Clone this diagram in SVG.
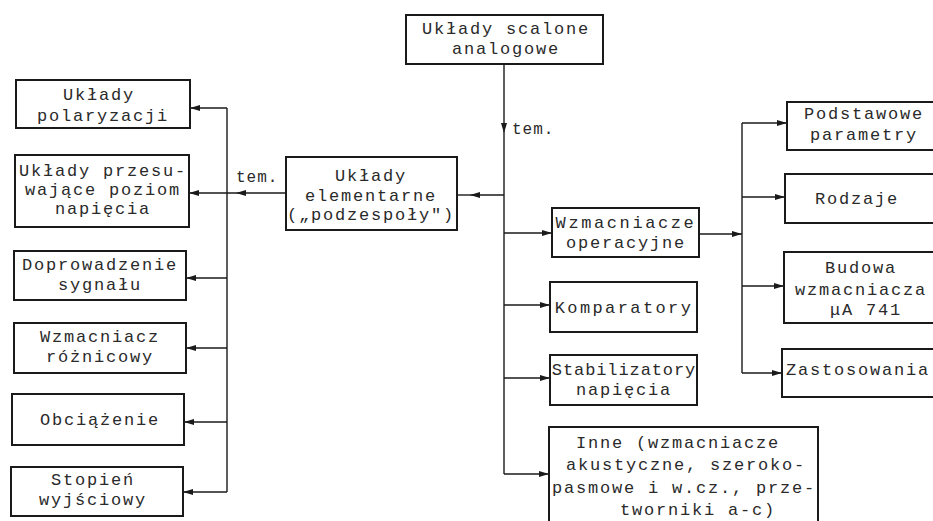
<svg xmlns="http://www.w3.org/2000/svg" width="933" height="521" viewBox="0 0 933 521">
  <style>
    .box { fill: #fff; stroke: #1a1a1a; stroke-width: 2; }
    .t { font-family: "Liberation Mono", "DejaVu Sans Mono", monospace; font-size: 17px; letter-spacing: 1.8px; fill: #2a2a2a; text-anchor: middle; }
    .lbl { font-family: "Liberation Mono", "DejaVu Sans Mono", monospace; font-size: 16px; letter-spacing: 1px; fill: #2a2a2a; }
    .c { fill: none; stroke: #1a1a1a; stroke-width: 1.4; }
  </style>
  <defs>
    <marker id="arr" viewBox="0 0 10 6" refX="10" refY="3" markerWidth="10" markerHeight="6" markerUnits="userSpaceOnUse" orient="auto">
      <path d="M0,0 L10,3 L0,6 Z" fill="#1a1a1a"/>
    </marker>
  </defs>

  <rect width="933" height="521" fill="#fff"/>

  <!-- connectors -->
  <g id="connectors">
    <!-- trunk from the root down the middle -->
    <path class="c" d="M504,64 V133" marker-end="url(#arr)"/>
    <path class="c" d="M504,133 V474"/>
    <path class="c" d="M504,195 H470" marker-end="url(#arr)"/>
    <path class="c" d="M470,195 H457"/>
    <path class="c" d="M504,233 H552" marker-end="url(#arr)"/>
    <path class="c" d="M504,305 H550" marker-end="url(#arr)"/>
    <path class="c" d="M504,378 H550" marker-end="url(#arr)"/>
    <path class="c" d="M504,474 H549" marker-end="url(#arr)"/>

    <!-- left branch: elementary circuits -->
    <path class="c" d="M286,193 H236" marker-end="url(#arr)"/>
    <path class="c" d="M236,193 H189" marker-end="url(#arr)"/>
    <path class="c" d="M227,108 V492"/>
    <path class="c" d="M227,108 H190" marker-end="url(#arr)"/>
    <path class="c" d="M227,278 H186" marker-end="url(#arr)"/>
    <path class="c" d="M227,348 H186" marker-end="url(#arr)"/>
    <path class="c" d="M227,422 H184" marker-end="url(#arr)"/>
    <path class="c" d="M227,492 H183" marker-end="url(#arr)"/>

    <!-- right branch: operational amplifiers -->
    <path class="c" d="M699,234 H742" marker-end="url(#arr)"/>
    <path class="c" d="M742,123 V373"/>
    <path class="c" d="M742,123 H787" marker-end="url(#arr)"/>
    <path class="c" d="M742,197 H785" marker-end="url(#arr)"/>
    <path class="c" d="M742,286 H784" marker-end="url(#arr)"/>
    <path class="c" d="M742,373 H782" marker-end="url(#arr)"/>

    <text class="lbl" x="236" y="182">tem.</text>
    <text class="lbl" x="512" y="134">tem.</text>
  </g>

  <!-- root -->
  <g id="root">
    <rect class="box" x="406" y="15" width="197" height="49"/>
    <text class="t" x="506" y="34">Układy scalone</text>
    <text class="t" x="506" y="54">analogowe</text>
  </g>

  <!-- elementary circuits -->
  <g id="elementarne">
    <rect class="box" x="286" y="157" width="171" height="73"/>
    <text class="t" x="371" y="181">Układy</text>
    <text class="t" x="371" y="201">elementarne</text>
    <text class="t" x="371" y="220">(„podzespoły")</text>
  </g>

  <g id="polaryzacja">
    <rect class="box" x="16" y="80" width="174" height="48"/>
    <text class="t" x="99" y="100">Układy</text>
    <text class="t" x="103" y="121">polaryzacji</text>
  </g>

  <g id="przesuwanie">
    <rect class="box" x="15" y="155" width="174" height="72"/>
    <text class="t" x="103" y="176">Układy przesu-</text>
    <text class="t" x="103" y="195">wające poziom</text>
    <text class="t" x="103" y="214">napięcia</text>
  </g>

  <g id="doprowadzenie">
    <rect class="box" x="14" y="251" width="172" height="49"/>
    <text class="t" x="100" y="270">Doprowadzenie</text>
    <text class="t" x="100" y="290">sygnału</text>
  </g>

  <g id="roznicowy">
    <rect class="box" x="14" y="323" width="172" height="50"/>
    <text class="t" x="100" y="342">Wzmacniacz</text>
    <text class="t" x="100" y="362">różnicowy</text>
  </g>

  <g id="obciazenie">
    <rect class="box" x="12" y="394" width="172" height="51"/>
    <text class="t" x="100" y="425">Obciążenie</text>
  </g>

  <g id="wyjsciowy">
    <rect class="box" x="11" y="467" width="172" height="49"/>
    <text class="t" x="93" y="485">Stopień</text>
    <text class="t" x="93" y="505">wyjściowy</text>
  </g>

  <!-- integrated circuit families -->
  <g id="operacyjne">
    <rect class="box" x="552" y="208" width="147" height="49"/>
    <text class="t" x="626" y="228" style="letter-spacing:2.6px">Wzmacniacze</text>
    <text class="t" x="626" y="248">operacyjne</text>
  </g>

  <g id="komparatory">
    <rect class="box" x="550" y="282" width="147" height="50"/>
    <text class="t" x="624" y="313" style="letter-spacing:2.4px">Komparatory</text>
  </g>

  <g id="stabilizatory">
    <rect class="box" x="550" y="355" width="147" height="50"/>
    <text class="t" x="624" y="375" style="letter-spacing:0.9px">Stabilizatory</text>
    <text class="t" x="624" y="395">napięcia</text>
  </g>

  <g id="inne">
    <rect class="box" x="549" y="427" width="269" height="100"/>
    <text class="t" x="678" y="448">Inne (wzmacniacze</text>
    <text class="t" x="686" y="470">akustyczne, szeroko-</text>
    <text class="t" x="684" y="493">pasmowe i w.cz., prze-</text>
    <text class="t" x="698" y="515">tworniki a-c)</text>
  </g>

  <!-- operational amplifier topics -->
  <g id="parametry">
    <rect class="box" x="787" y="102" width="150" height="48"/>
    <text class="t" x="864" y="119">Podstawowe</text>
    <text class="t" x="864" y="140">parametry</text>
  </g>

  <g id="rodzaje">
    <rect class="box" x="785" y="174" width="152" height="49"/>
    <text class="t" x="857" y="204">Rodzaje</text>
  </g>

  <g id="budowa">
    <rect class="box" x="784" y="252" width="153" height="71"/>
    <text class="t" x="861" y="273">Budowa</text>
    <text class="t" x="861" y="295">wzmacniacza</text>
    <text class="t" x="866" y="315">μA 741</text>
  </g>

  <g id="zastosowania">
    <rect class="box" x="782" y="349" width="155" height="48"/>
    <text class="t" x="858" y="375">Zastosowania</text>
  </g>
</svg>
